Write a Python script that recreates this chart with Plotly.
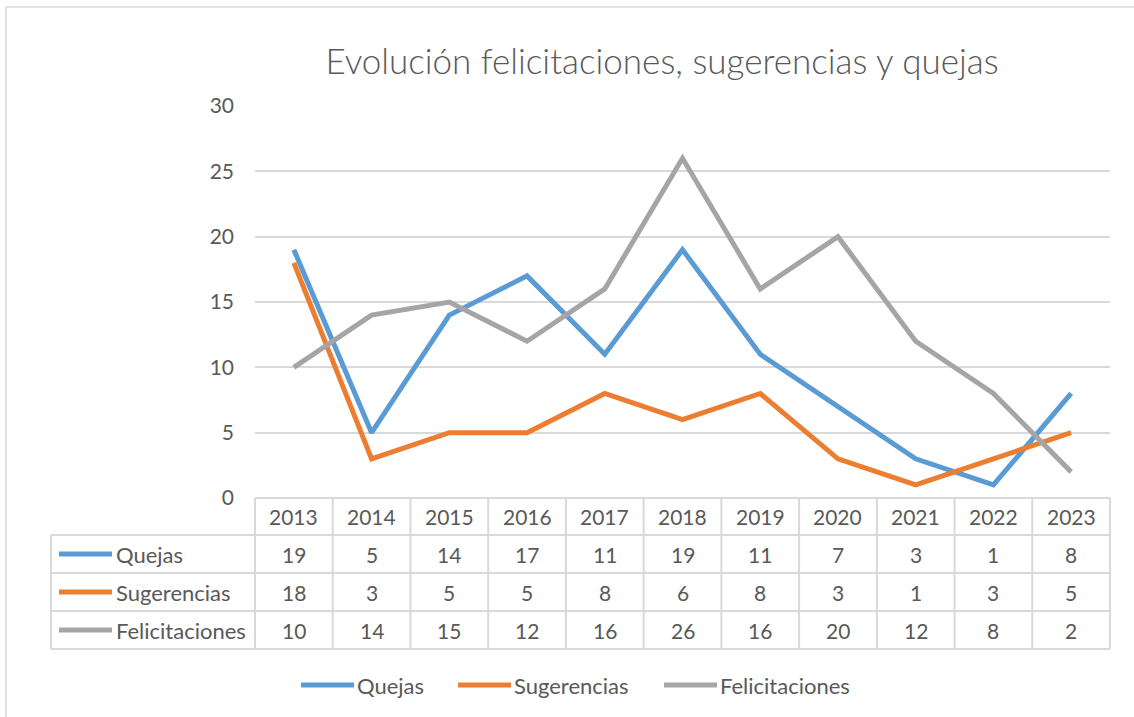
import plotly.graph_objects as go

# Series data
years = ["2013", "2014", "2015", "2016", "2017", "2018", "2019", "2020", "2021", "2022", "2023"]
quejas = [19, 5, 14, 17, 11, 19, 11, 7, 3, 1, 8]
sugerencias = [18, 3, 5, 5, 8, 6, 8, 3, 1, 3, 5]
felicitaciones = [10, 14, 15, 12, 16, 26, 16, 20, 12, 8, 2]
series_names = ["Quejas", "Sugerencias", "Felicitaciones"]
series_values = [quejas, sugerencias, felicitaciones]
y_ticks = [0, 5, 10, 15, 20, 25, 30]

W, H = 1134, 717
FONT = "Lato"
TXT = "#595959"
GRID = "#D9D9D9"
COLORS = ["#5B9BD5", "#ED7D31", "#A5A5A5"]

# Pixel layout of plot area and data table
PL, PR = 255, 1110          # plot area left/right
PT, PB = 106, 498           # y=30 / y=0
ROW_Y = [498, 535, 573, 611, 649]  # table horizontal rules
TBL_L = 51                  # table left edge (series label column)
LEG_Y = 685                 # bottom legend centre line
LEG_X = [299, 456, 662]     # bottom legend key starts
KEY_LEN = 56


def px(x):
    return x / W


def py(y):
    return 1 - y / H


fig = go.Figure()
for name, vals, col in zip(series_names, series_values, COLORS):
    fig.add_trace(go.Scatter(
        x=years, y=vals, name=name, mode="lines",
        line=dict(color=col, width=5),
        showlegend=False,
    ))

shapes = []
annotations = []

# Outer chart border
shapes.append(dict(type="line", xref="paper", yref="paper",
                   x0=px(6), x1=px(6), y0=py(7), y1=py(720),
                   line=dict(color=GRID, width=1.5)))
shapes.append(dict(type="line", xref="paper", yref="paper",
                   x0=px(6), x1=px(1140), y0=py(7), y1=py(7),
                   line=dict(color=GRID, width=1.5)))

# Table horizontal rules
for i, y in enumerate(ROW_Y):
    x0 = PL if i == 0 else TBL_L
    shapes.append(dict(type="line", xref="paper", yref="paper",
                       x0=px(x0), x1=px(PR), y0=py(y), y1=py(y),
                       line=dict(color=GRID, width=2)))

# Table vertical rules
col_w = (PR - PL) / len(years)
for j in range(len(years) + 1):
    x = PL + j * col_w
    shapes.append(dict(type="line", xref="paper", yref="paper",
                       x0=px(x), x1=px(x), y0=py(ROW_Y[0]), y1=py(ROW_Y[-1]),
                       line=dict(color=GRID, width=2)))
shapes.append(dict(type="line", xref="paper", yref="paper",
                   x0=px(TBL_L), x1=px(TBL_L), y0=py(ROW_Y[1]), y1=py(ROW_Y[-1]),
                   line=dict(color=GRID, width=2)))

# Header row: years
for j, yr in enumerate(years):
    annotations.append(dict(
        xref="paper", yref="paper", x=px(PL + (j + 0.5) * col_w),
        y=py((ROW_Y[0] + ROW_Y[1]) / 2), text=yr, showarrow=False,
        xanchor="center", yanchor="middle",
        font=dict(family=FONT, size=21, color=TXT)))

# Series rows: legend key, name, values
for r, (name, vals, col) in enumerate(zip(series_names, series_values, COLORS)):
    yc = (ROW_Y[r + 1] + ROW_Y[r + 2]) / 2
    shapes.append(dict(type="line", xref="paper", yref="paper",
                       x0=px(59), x1=px(112), y0=py(yc), y1=py(yc),
                       line=dict(color=col, width=5)))
    annotations.append(dict(
        xref="paper", yref="paper", x=px(114), y=py(yc), text=name,
        showarrow=False, xanchor="left", yanchor="middle",
        font=dict(family=FONT, size=22, color=TXT)))
    for j, v in enumerate(vals):
        annotations.append(dict(
            xref="paper", yref="paper", x=px(PL + (j + 0.5) * col_w),
            y=py(yc), text=str(v), showarrow=False,
            xanchor="center", yanchor="middle",
            font=dict(family=FONT, size=21, color=TXT)))

# Bottom legend
for name, col, x0 in zip(series_names, COLORS, LEG_X):
    shapes.append(dict(type="line", xref="paper", yref="paper",
                       x0=px(x0 + 2), x1=px(x0 + KEY_LEN - 1),
                       y0=py(LEG_Y), y1=py(LEG_Y),
                       line=dict(color=col, width=5)))
    annotations.append(dict(
        xref="paper", yref="paper", x=px(x0 + KEY_LEN), y=py(LEG_Y), text=name,
        showarrow=False, xanchor="left", yanchor="middle",
        font=dict(family=FONT, size=22, color=TXT)))

fig.update_layout(
    width=W, height=H,
    margin=dict(l=0, r=0, t=0, b=0, autoexpand=False),
    paper_bgcolor="white", plot_bgcolor="white",
    showlegend=False,
    title=dict(text="Evolución felicitaciones, sugerencias y quejas",
               x=px(662), xanchor="center", y=py(62), yanchor="middle",
               font=dict(family=FONT, size=35, color=TXT, weight=300)),
    xaxis=dict(domain=[px(PL), px(PR)], range=[-0.5, len(years) - 0.5],
               showticklabels=False, showgrid=False, zeroline=False,
               showline=False, fixedrange=True, automargin=False),
    yaxis=dict(domain=[py(PB), py(PT)], range=[0, 30], tickvals=y_ticks,
               showgrid=True, gridcolor=GRID, gridwidth=2, zeroline=False,
               showline=False, ticklabelstandoff=20, automargin=False,
               tickfont=dict(family=FONT, size=21, color=TXT)),
    shapes=shapes, annotations=annotations,
)

fig.write_html("out.html")
